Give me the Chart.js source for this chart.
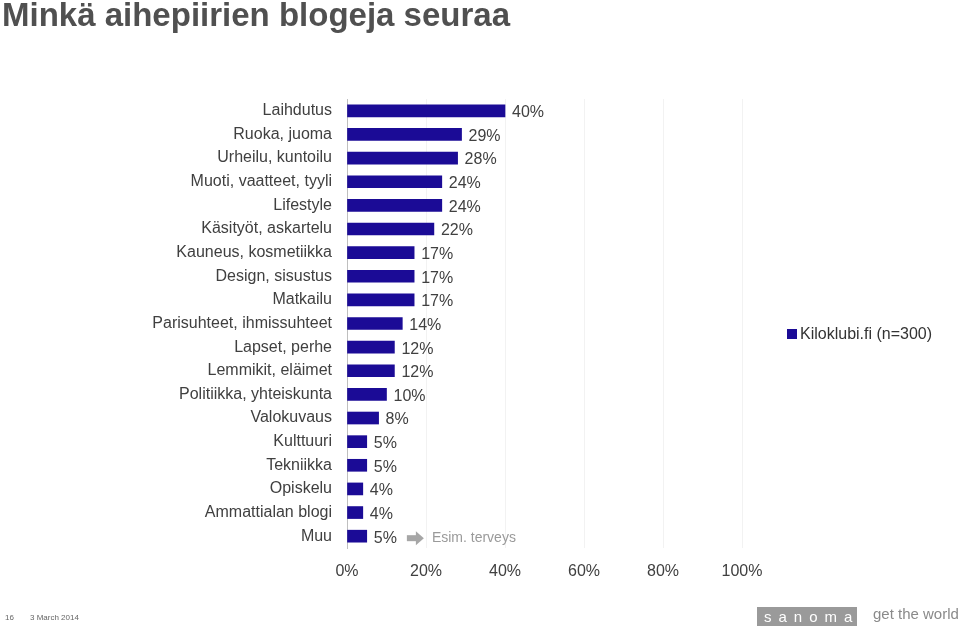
<!DOCTYPE html>
<html><head><meta charset="utf-8">
<script src="https://cdn.jsdelivr.net/npm/chart.js@4/dist/chart.umd.min.js"></script>
<style>
body{margin:0;background:#fff;font-family:"Liberation Sans",Arial,sans-serif;}
#wrap{position:relative;width:960px;height:626px;overflow:hidden;}
canvas{position:absolute;left:0;top:0;}
.t{position:absolute;white-space:nowrap;}
</style></head><body>
<div id="wrap">
<canvas id="c" width="960" height="626"></canvas>
<div class="t" style="left:2px;top:-4px;font-size:33px;font-weight:bold;color:#505050;">Minkä aihepiirien blogeja seuraa</div>
<div class="t" style="left:787px;top:329px;width:10px;height:10px;background:#1b0b96;"></div>
<div class="t" style="left:800px;top:325px;font-size:16px;color:#333;">Kiloklubi.fi (n=300)</div>
<div class="t" style="left:5px;top:613px;font-size:8px;color:#666;">16</div>
<div class="t" style="left:30px;top:613px;font-size:8px;color:#666;">3 March 2014</div>
<div class="t" style="left:757px;top:607px;width:100px;height:19px;background:#9a9a9a;color:#fff;font-size:15px;line-height:19px;text-align:center;letter-spacing:7px;text-indent:7px;">sanoma</div>
<div class="t" style="left:873px;top:605px;font-size:15px;color:#8a8a8a;">get the world</div>
</div>
<script>
const categories=["Laihdutus","Ruoka, juoma","Urheilu, kuntoilu","Muoti, vaatteet, tyyli","Lifestyle","Käsityöt, askartelu","Kauneus, kosmetiikka","Design, sisustus","Matkailu","Parisuhteet, ihmissuhteet","Lapset, perhe","Lemmikit, eläimet","Politiikka, yhteiskunta","Valokuvaus","Kulttuuri","Tekniikka","Opiskelu","Ammattialan blogi","Muu"];
const values=[40,29,28,24,24,22,17,17,17,14,12,12,10,8,5,5,4,4,5];
const xTicks=[0,20,40,60,80,100];
const seriesName="Kiloklubi.fi (n=300)";
const note="Esim. terveys";

const labelPlugin={id:'lbl',afterDatasetsDraw(ch){
  const ctx=ch.ctx;const meta=ch.getDatasetMeta(0);
  ctx.save();ctx.font='16px "Liberation Sans", Arial';ctx.fillStyle='#404040';ctx.textBaseline='middle';
  meta.data.forEach((b,i)=>{ctx.fillText(values[i]+'%',b.x+7,b.y+2);});
  const last=meta.data[meta.data.length-1];
  const tx=last.x+7+ctx.measureText(values[values.length-1]+'%').width+10;
  const y=last.y+2;
  ctx.fillStyle='#a6a6a6';
  ctx.beginPath();ctx.rect(tx,y-3,10,6);ctx.fill();
  ctx.beginPath();ctx.moveTo(tx+9,y-7);ctx.lineTo(tx+17,y);ctx.lineTo(tx+9,y+7);ctx.closePath();ctx.fill();
  ctx.font='14px "Liberation Sans", Arial';ctx.fillStyle='#9a9a9a';
  ctx.fillText(note,tx+25,y);
  ctx.restore();
}};
new Chart(document.getElementById('c'),{
  type:'bar',
  data:{labels:categories,datasets:[{label:seriesName,data:values,backgroundColor:'#1b0b96',barThickness:12}]},
  options:{indexAxis:'y',responsive:false,animation:false,
    layout:{padding:{left:0,right:218,top:99,bottom:0}},
    plugins:{legend:{display:false},tooltip:{enabled:false}},
    scales:{
      x:{min:0,max:100,afterFit(s){s.height=78;},afterBuildTicks(s){s.ticks=xTicks.map(v=>({value:v}));},
        ticks:{padding:14,color:'#404040',font:{size:16,family:'"Liberation Sans", Arial'},callback:v=>v+'%'},
        grid:{color:'#f2f2f2',drawTicks:false},border:{display:false}},
      y:{afterFit(s){s.width=347;},ticks:{padding:15,color:'#404040',font:{size:16,family:'"Liberation Sans", Arial'}},
        grid:{display:false,drawTicks:false},border:{color:'#bfbfbf'}}
    }},
  plugins:[labelPlugin]
});
</script>
</body></html>
